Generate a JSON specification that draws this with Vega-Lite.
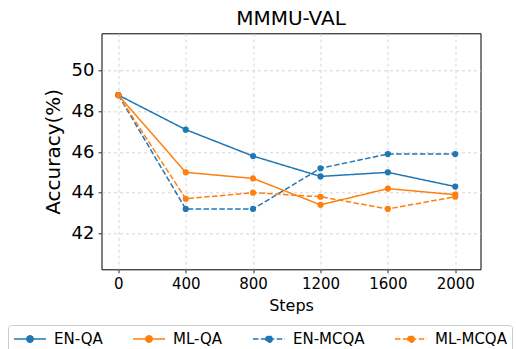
{
  "$schema": "https://vega.github.io/schema/vega-lite/v6.json",
  "autosize": "none",
  "width": 379,
  "height": 236,
  "padding": {"left": 101.5, "top": 33.3, "right": 35.5, "bottom": 79.7},
  "background": "white",
  "title": {"text": "MMMU-VAL", "fontSize": 20, "font": "DejaVu Sans", "fontWeight": "normal", "color": "black", "offset": 4},
  "data": {
    "values": [
      {"series": "EN-QA", "step": 0, "acc": 48.8},
      {"series": "EN-QA", "step": 400, "acc": 47.1},
      {"series": "EN-QA", "step": 800, "acc": 45.8},
      {"series": "EN-QA", "step": 1200, "acc": 44.8},
      {"series": "EN-QA", "step": 1600, "acc": 45.0},
      {"series": "EN-QA", "step": 2000, "acc": 44.3},
      {"series": "ML-QA", "step": 0, "acc": 48.8},
      {"series": "ML-QA", "step": 400, "acc": 45.0},
      {"series": "ML-QA", "step": 800, "acc": 44.7},
      {"series": "ML-QA", "step": 1200, "acc": 43.4},
      {"series": "ML-QA", "step": 1600, "acc": 44.2},
      {"series": "ML-QA", "step": 2000, "acc": 43.9},
      {"series": "EN-MCQA", "step": 0, "acc": 48.8},
      {"series": "EN-MCQA", "step": 400, "acc": 43.2},
      {"series": "EN-MCQA", "step": 800, "acc": 43.2},
      {"series": "EN-MCQA", "step": 1200, "acc": 45.2},
      {"series": "EN-MCQA", "step": 1600, "acc": 45.9},
      {"series": "EN-MCQA", "step": 2000, "acc": 45.9},
      {"series": "ML-MCQA", "step": 0, "acc": 48.8},
      {"series": "ML-MCQA", "step": 400, "acc": 43.7},
      {"series": "ML-MCQA", "step": 800, "acc": 44.0},
      {"series": "ML-MCQA", "step": 1200, "acc": 43.8},
      {"series": "ML-MCQA", "step": 1600, "acc": 43.2},
      {"series": "ML-MCQA", "step": 2000, "acc": 43.8}
    ]
  },
  "mark": {"type": "line", "strokeWidth": 1.5, "point": {"filled": true, "size": 38, "opacity": 1}},
  "encoding": {
    "x": {
      "field": "step", "type": "quantitative",
      "scale": {"domain": [-100, 2150], "nice": false, "zero": false},
      "axis": {"values": [0, 400, 800, 1200, 1600, 2000], "format": "d", "title": "Steps", "labelFontSize": 15, "titleFontSize": 16, "titlePadding": 6}
    },
    "y": {
      "field": "acc", "type": "quantitative",
      "scale": {"domain": [40.23, 51.84], "nice": false, "zero": false},
      "axis": {"values": [42, 44, 46, 48, 50], "title": "Accuracy(%)", "labelFontSize": 18, "titleFontSize": 20, "titlePadding": 8}
    },
    "color": {
      "field": "series", "type": "nominal",
      "scale": {"domain": ["EN-QA", "ML-QA", "EN-MCQA", "ML-MCQA"], "range": ["#1f77b4", "#ff7f0e", "#1f77b4", "#ff7f0e"]},
      "legend": {"title": null, "orient": "none", "legendX": -93.5, "legendY": 291.7, "direction": "horizontal", "columns": 4}
    },
    "strokeDash": {
      "field": "series", "type": "nominal",
      "scale": {"domain": ["EN-QA", "ML-QA", "EN-MCQA", "ML-MCQA"], "range": [[1, 0], [1, 0], [5.5, 2.4], [5.5, 2.4]]},
      "legend": {"title": null, "orient": "none", "legendX": -93.5, "legendY": 291.7, "direction": "horizontal", "columns": 4}
    }
  },
  "config": {
    "font": "DejaVu Sans",
    "view": {"stroke": "black", "strokeWidth": 1},
    "axis": {
      "domain": false,
      "grid": true,
      "gridColor": "#cccccc",
      "gridDash": [3, 3],
      "gridWidth": 0.8,
      "tickColor": "black",
      "tickSize": 3.5,
      "tickWidth": 0.8,
      "labelPadding": 4,
      "labelColor": "black",
      "titleColor": "black",
      "titleFontWeight": "normal",
      "labelFont": "DejaVu Sans",
      "titleFont": "DejaVu Sans"
    },
    "legend": {
      "labelFontSize": 15,
      "labelFont": "DejaVu Sans",
      "labelColor": "black",
      "symbolType": "M-1,0L3,0M1.4,0A0.4,0.4,0,1,1,0.6,0A0.4,0.4,0,1,1,1.4,0Z",
      "symbolSize": 256,
      "symbolStrokeWidth": 1.5,
      "labelOffset": 23,
      "columnPadding": 27,
      "padding": 5,
      "strokeColor": "#cccccc",
      "cornerRadius": 3,
      "fillColor": "white"
    }
  }
}
